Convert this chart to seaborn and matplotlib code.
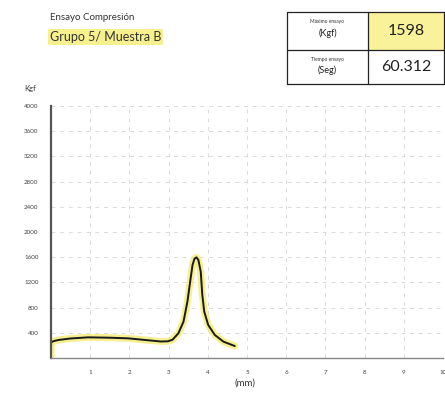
import matplotlib
matplotlib.use("Agg")
import matplotlib.pyplot as plt
import seaborn as sns
import pandas as pd
from matplotlib.patches import Rectangle

# data
disp = [0, 0, 0.05, 0.19, 0.5, 0.95, 1.5, 1.97, 2.5, 2.8, 2.98, 3.1, 3.25, 3.38, 3.48, 3.55,
        3.61, 3.66, 3.71, 3.76, 3.82, 3.86, 3.91, 4.01, 4.18, 4.4, 4.69]
load = [0, 243, 265, 286, 310, 328, 322, 312, 280, 262, 265, 290, 392, 577, 894, 1211,
        1476, 1575, 1598, 1556, 1370, 1000, 735, 524, 365, 259, 190]
x_ticks = list(range(1, 11))
y_ticks = list(range(400, 4001, 400))
max_load = "1598"
test_time = "60.312"

df = pd.DataFrame({"mm": disp, "kgf": load})

sns.set_style("white")
plt.rcParams['font.family'] = ['Lato', 'DejaVu Sans']

W, H = 445, 398
fig = plt.figure(figsize=(W / 100, H / 100), dpi=100)
ax = fig.add_axes([51 / W, 1 - 358 / H, (443 - 51) / W, (358 - 106) / H])

sns.lineplot(data=df, x="mm", y="kgf", sort=False, estimator=None, ax=ax,
             color="#f3ea6a", linewidth=5, alpha=0.75, solid_capstyle="round",
             solid_joinstyle="round")
sns.lineplot(data=df, x="mm", y="kgf", sort=False, estimator=None, ax=ax,
             color="#1a1a1a", linewidth=1.4, solid_capstyle="round",
             solid_joinstyle="round")

ax.set_xlim(0, 10)
ax.set_ylim(0, 4000)
ax.set_xticks(x_ticks)
ax.set_yticks(y_ticks)
ax.set_xticklabels([str(t) for t in x_ticks])
ax.set_yticklabels([str(t) for t in y_ticks])
ax.tick_params(axis="both", labelsize=4.5, colors="#444444", length=0, pad=9)
ax.grid(True, color="#dadada", linestyle=(0, (4, 5)), linewidth=0.7)
for s in ["top", "right"]:
    ax.spines[s].set_visible(False)
ax.spines["left"].set_color("#555555")
ax.spines["left"].set_linewidth(1.6)
ax.spines["bottom"].set_color("#888888")
ax.spines["bottom"].set_linewidth(1.0)
ax.set_xlabel("")
ax.set_ylabel("")

fig.text(245 / W, 1 - 383 / H, "(mm)", fontsize=7, color="#333333", ha="center", va="center")
fig.text(30 / W, 1 - 88 / H, "Kgf", fontsize=5.5, color="#333333", ha="center", va="center")

fig.text(50 / W, 1 - 18 / H, "Ensayo Compresión", fontsize=7, color="#333333", va="center")
fig.text(50 / W, 1 - 37 / H, "Grupo 5/ Muestra B", fontsize=9, color="#333333", va="center",
         bbox=dict(boxstyle="square,pad=0.15", facecolor="#f7f08e", edgecolor="none"))

# table at top right
tx0, tx1, tx2 = 287, 368, 444
ty0, ty1, ty2 = 12, 50, 84
def fx(px):
    return px / W
def fy(py):
    return 1 - py / H
fig.patches.append(Rectangle((fx(tx1), fy(ty1)), fx(tx2) - fx(tx1), fy(ty0) - fy(ty1),
                             transform=fig.transFigure, facecolor="#f9f29a", edgecolor="none"))
for (a, b, c, d) in [(tx0, ty0, tx2, ty0), (tx0, ty1, tx2, ty1), (tx0, ty2, tx2, ty2),
                     (tx0, ty0, tx0, ty2), (tx1, ty0, tx1, ty2), (tx2, ty0, tx2, ty2)]:
    fig.add_artist(plt.Line2D([fx(a), fx(c)], [fy(b), fy(d)], transform=fig.transFigure,
                              color="#222222", linewidth=0.9))
cx = (tx0 + tx1) / 2
fig.text(fx(cx), fy(22), "Máximo ensayo", fontsize=3.5, color="#333333", ha="center", va="center")
fig.text(fx(cx), fy(33), "(Kgf)", fontsize=6.5, color="#222222", ha="center", va="center")
fig.text(fx(cx), fy(59), "Tiempo ensayo", fontsize=3.5, color="#333333", ha="center", va="center")
fig.text(fx(cx), fy(70), "(Seg)", fontsize=6.5, color="#222222", ha="center", va="center")
vx = (tx1 + tx2) / 2
fig.text(fx(vx), fy(31), max_load, fontsize=11.5, color="#222222", ha="center", va="center")
fig.text(fx(vx), fy(67), test_time, fontsize=11.5, color="#222222", ha="center", va="center")

fig.savefig("out.png", dpi=100)
